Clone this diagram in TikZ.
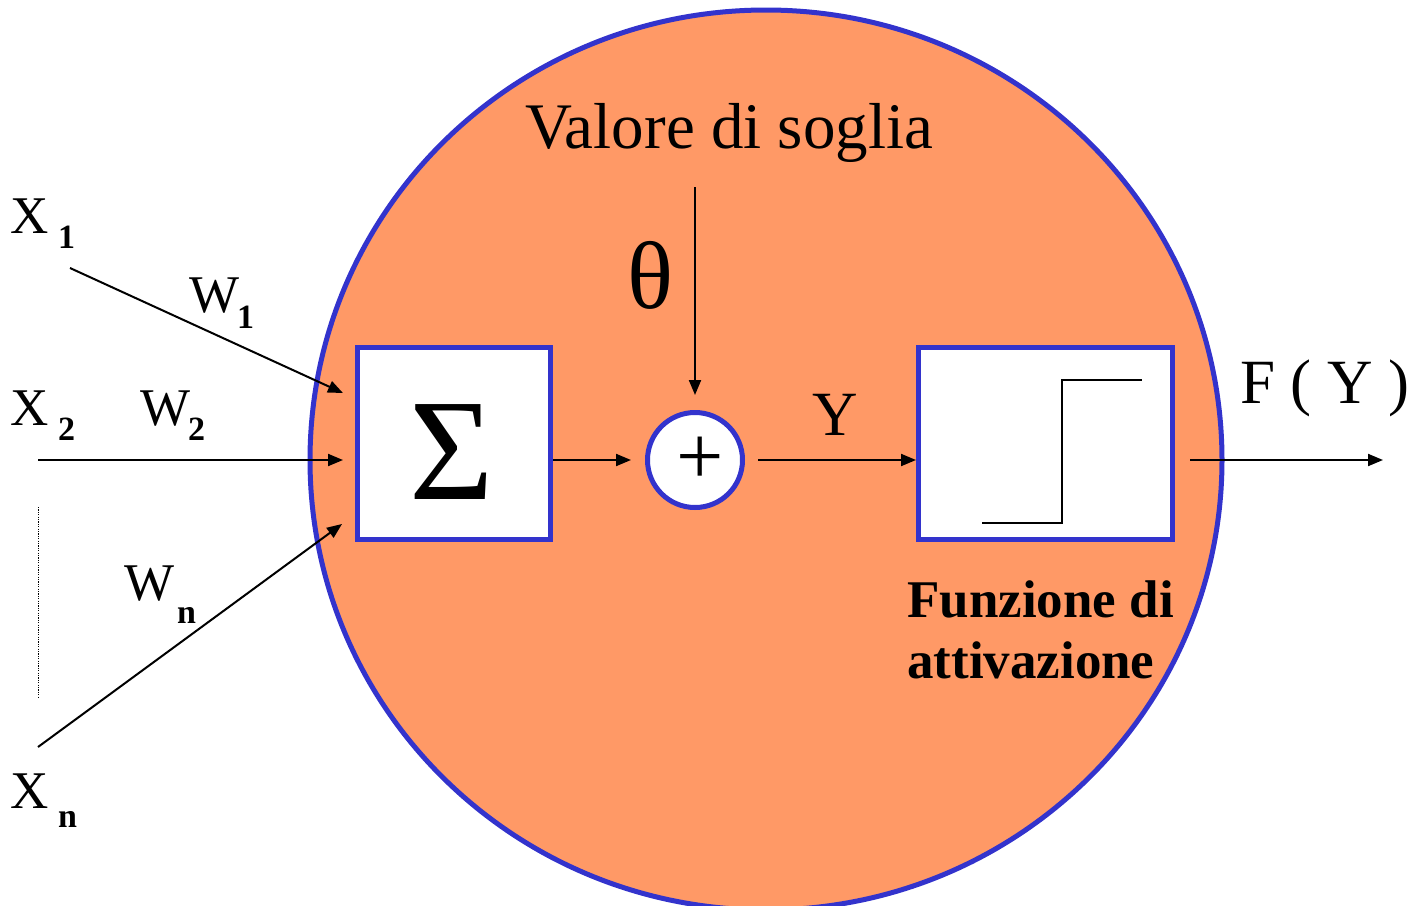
\documentclass[tikz,border=0pt]{standalone}
\usepackage{fontspec}
\setmainfont{Liberation Serif}
\usetikzlibrary{arrows.meta}
\definecolor{cellfill}{HTML}{FF9966}
\definecolor{rimblue}{HTML}{3333CC}
\begin{document}
\begin{tikzpicture}[x=1pt,y=-1pt,
  lbl/.style={anchor=base west,inner sep=0pt,font=\fontsize{53}{53}\selectfont},
  sub/.style={anchor=base west,inner sep=0pt,font=\fontsize{34}{34}\selectfont\bfseries},
  big/.style={anchor=base west,inner sep=0pt,font=\fontsize{63}{63}\selectfont},
  conn/.style={line width=2pt,-{Triangle[length=15pt,width=12pt]}},
  blk/.style={draw=rimblue,line width=5pt,fill=white,inner sep=0pt,rectangle}
]
\useasboundingbox (0,0) rectangle (1427,905);
% cell body
\path[fill=cellfill,draw=rimblue,line width=5pt] (766,460) ellipse [x radius=456pt,y radius=450pt];
% blocks
\node[blk,minimum width=193pt,minimum height=192pt] (sigma) at (454,443.5) {};
\node[anchor=center,inner sep=0pt,font=\fontsize{145}{145}\selectfont] (sigmatxt) at (451.5,452) {Σ};
\node[blk,circle,minimum size=95pt] (sum) at (695,460) {};
\node[inner sep=0pt,font=\fontsize{84}{84}\selectfont] (plus) at (700,461) {+};
\node[blk,minimum width=254pt,minimum height=192pt] (act) at (1045.5,443.5) {};
\draw[line width=1.5pt] (982,523) -- (1062,523) -- (1062,380) -- (1142,380);
% free ends
\coordinate (x1s) at (70,268);
\coordinate (x1e) at (343,393);
\coordinate (x2s) at (38,460);
\coordinate (x2e) at (343,460);
\coordinate (xns) at (38,747);
\coordinate (xne) at (342,524);
\coordinate (ths) at (695,187);
\coordinate (oute) at (1383,460);
% connectors
\draw[conn] (x1s) -- (x1e);
\draw[conn] (x2s) -- (x2e);
\draw[conn] (xns) -- (xne);
\draw[conn] (sigma.east |- sum.center) -- ([xshift=-14pt]sum.west);
\draw[conn] (ths) -- ([yshift=15pt]sum.north);
\draw[conn] ([xshift=13pt]sum.east) -- (act.west |- sum.center);
\draw[conn] ([xshift=15pt]act.east |- sum.center) -- (oute);
% dotted ellipsis
\draw[line width=1pt,dash pattern=on 1.2pt off 1.2pt] (38,507) -- (38,697);
% labels
\node[lbl] (x1) at (10,233) {X};
\node[sub] (x1i) at (58,248) {1};
\node[lbl] (x2) at (10,425) {X};
\node[sub] (x2i) at (58,440) {2};
\node[lbl] (xn) at (10,808) {X};
\node[sub] (xni) at (58,827) {n};
\node[lbl] (w1) at (189,312) {W};
\node[sub] (w1i) at (237,328) {1};
\node[lbl] (w2) at (140,425) {W};
\node[sub] (w2i) at (188,440) {2};
\node[lbl] (wn) at (124,600) {W};
\node[sub] (wni) at (177,623) {n};
\node[anchor=base west,inner sep=0pt,font=\fontsize{65}{65}\selectfont] (soglia) at (525,148) {Valore di soglia};
\node[inner sep=0pt,font=\fontsize{96}{96}\selectfont] (theta) at (650,275.5) {θ};
\node[big] (y) at (812,435) {Y};
\node[big] (fy) at (1240,403) {F ( Y )};
\node[anchor=base west,inner sep=0pt,font=\fontsize{53}{53}\selectfont\bfseries] (fa1) at (907,617) {Funzione di};
\node[anchor=base west,inner sep=0pt,font=\fontsize{53}{53}\selectfont\bfseries] (fa2) at (907,678) {attivazione};
\end{tikzpicture}
\end{document}
